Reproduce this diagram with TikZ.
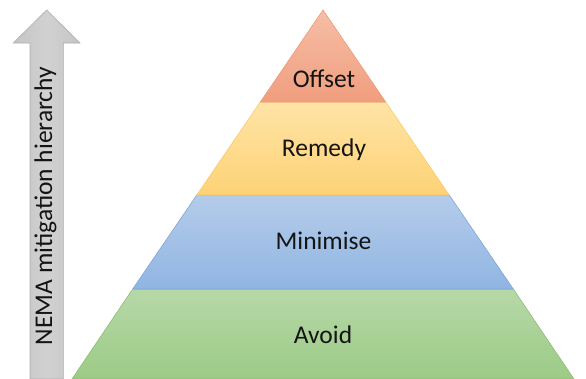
\documentclass[tikz,border=0pt]{standalone}
\usepackage{fontspec}
\setmainfont{Carlito}
\begin{document}
\begin{tikzpicture}[x=1pt,y=-1pt,
  lbl/.style={anchor=base,inner sep=0pt,text=black!92,font=\fontsize{25.5}{30}\selectfont},
  layer/.style={line width=0.6pt,line join=miter}]
\useasboundingbox (0,0) rectangle (586,378);
\definecolor{offT}{HTML}{F6BEA6}\definecolor{offB}{HTML}{F09E7E}\definecolor{offL}{HTML}{EE9A78}
\definecolor{remT}{HTML}{FFE4A6}\definecolor{remB}{HTML}{FDD276}\definecolor{remL}{HTML}{F9CB63}
\definecolor{minT}{HTML}{B5CCEA}\definecolor{minB}{HTML}{90B5E2}\definecolor{minL}{HTML}{7FA6D8}
\definecolor{avT}{HTML}{B7D8A8}\definecolor{avB}{HTML}{9CCB86}\definecolor{avL}{HTML}{8CBF73}
% arrow
\path[draw=black!32,line width=0.6pt,left color=black!23,right color=black!23,middle color=black!18]
  (46.7,10) -- (80,43) -- (63.3,43) -- (63.3,379) -- (30,379) -- (30,43) -- (13.3,43) -- cycle;
\node[lbl,rotate=90] (arrowtext) at (52,206) {NEMA mitigation hierarchy};
% pyramid layers
\path[layer,draw=avL,top color=avT,bottom color=avB] (132.7,289) -- (513.3,289) -- (574,379) -- (72,379) -- cycle;
\path[layer,draw=minL,top color=minT,bottom color=minB] (196.8,195) -- (449.2,195) -- (513.3,289) -- (132.7,289) -- cycle;
\path[layer,draw=remL,top color=remT,bottom color=remB] (260.3,102) -- (385.7,102) -- (449.2,195) -- (196.8,195) -- cycle;
\path[layer,draw=offL,top color=offT,bottom color=offB] (323,10) -- (385.7,102) -- (260.3,102) -- cycle;
\node[lbl] (offset) at (324,87) {Offset};
\node[lbl] (remedy) at (324,156) {Remedy};
\node[lbl] (minimise) at (323.5,249) {Minimise};
\node[lbl] (avoid) at (323,343) {Avoid};
\end{tikzpicture}
\end{document}
